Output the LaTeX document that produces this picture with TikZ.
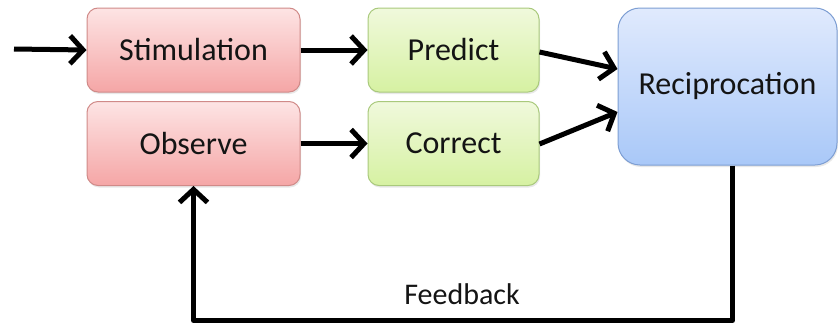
\documentclass[tikz,border=0pt]{standalone}
\usepackage{fontspec}
\setmainfont{Carlito}
\usetikzlibrary{arrows.meta,calc,shadows}
\definecolor{redtop}{HTML}{FDE4E4}
\definecolor{redbot}{HTML}{F5A6A6}
\definecolor{redline}{HTML}{D08A88}
\definecolor{greentop}{HTML}{F0F9DC}
\definecolor{greenbot}{HTML}{D6F1A2}
\definecolor{greenline}{HTML}{A9C97C}
\definecolor{bluetop}{HTML}{E0EAFD}
\definecolor{bluebot}{HTML}{A9C8F8}
\definecolor{blueline}{HTML}{7D9ED3}
\definecolor{txt}{HTML}{141414}
\tikzset{
  box/.style={rectangle, rounded corners=11pt, line width=1pt, align=center,
    text=txt, font=\fontsize{32}{38}\selectfont, inner sep=0pt,
    drop shadow={shadow xshift=1pt, shadow yshift=-2pt, opacity=0.18}},
  redbox/.style={box, draw=redline, top color=redtop, bottom color=redbot,
    minimum width=213pt, minimum height=84pt},
  greenbox/.style={box, draw=greenline, top color=greentop, bottom color=greenbot,
    minimum width=171pt, minimum height=84pt},
  bluebox/.style={box, draw=blueline, top color=bluetop, bottom color=bluebot,
    minimum width=219pt, minimum height=157pt, rounded corners=22pt},
  flow/.style={line width=5pt, line join=round,
    -{Straight Barb[length=13pt, width=28pt, line width=5pt]}},
  lbl/.style={text=txt, font=\fontsize{30}{36}\selectfont, inner sep=0pt}
}
\begin{document}
\begin{tikzpicture}[x=1pt, y=-1pt]
  \useasboundingbox (0,0) rectangle (838,327);

  % process boxes
  \node[redbox]   (stim) at (193.5,50)   {Stimulation};
  \node[redbox]   (obs)  at (193.5,143.5) {Observe};
  \node[greenbox] (pred) at (453.5,50)   {Predict};
  \node[greenbox] (corr) at (453.5,143.5) {Correct};
  \node[bluebox]  (rec)  at (727.5,86.5)  {Reciprocation};

  % entry point and feedback loop corners
  \coordinate (in) at (14,49);
  \coordinate (recout) at ($(rec.south)+(5,0)$);
  \coordinate (fbr) at ($(recout)+(0,155)$);

  % forward flow
  \draw[flow] (in) -- (stim.west);
  \draw[flow] (stim.east) -- (pred.west);
  \draw[flow] (obs.east) -- (corr.west);
  \draw[flow] ([yshift=-2pt]pred.east) -- (rec.west |- 0,69);
  \draw[flow] ([yshift=-0.5pt]corr.east) -- (rec.west |- 0,112);

  % feedback loop
  \draw[flow] (recout) -- (fbr) -| (obs.south);
  \node[lbl] (fb) at (462,294) {Feedback};
\end{tikzpicture}
\end{document}
